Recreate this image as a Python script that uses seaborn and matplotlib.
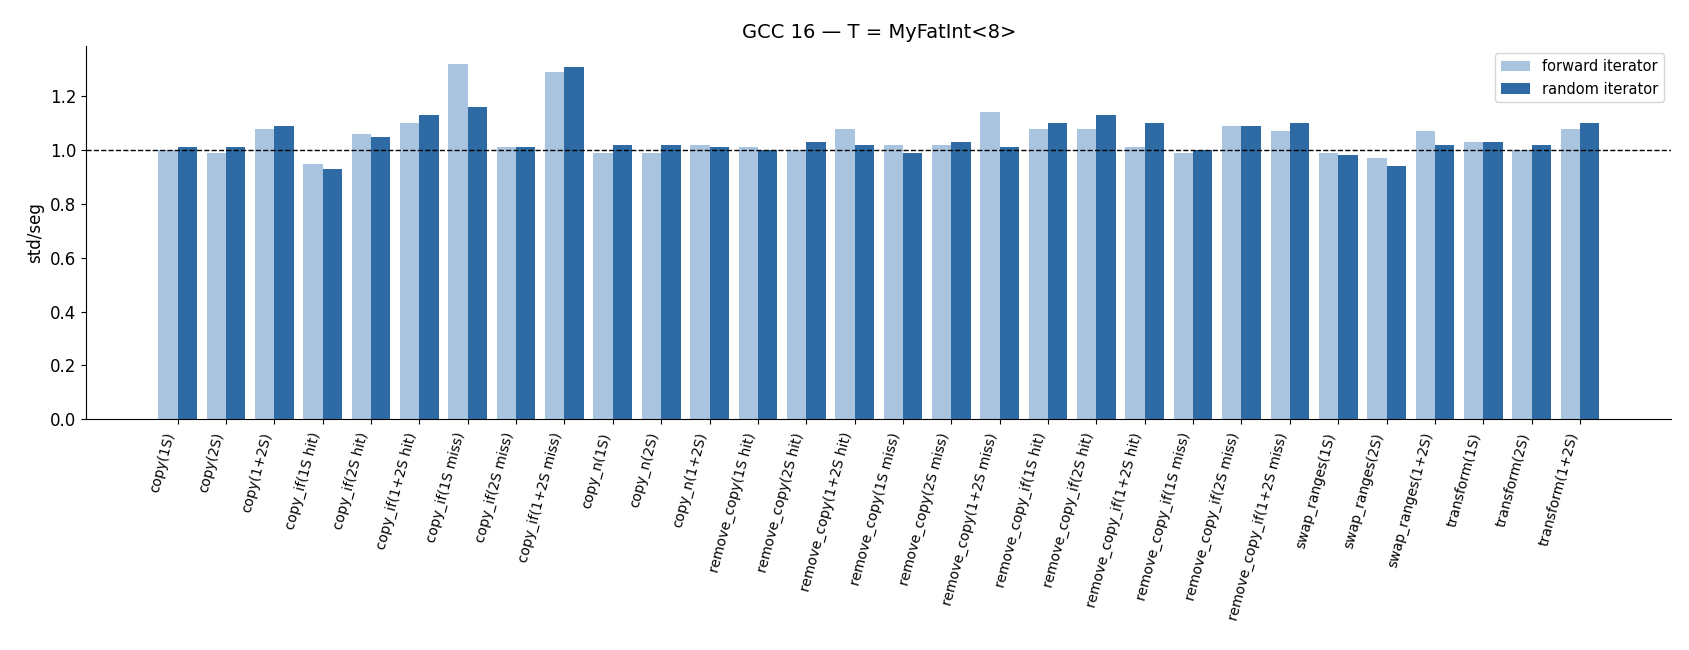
import numpy as np
import pandas as pd
import matplotlib
matplotlib.use("Agg")
import matplotlib.pyplot as plt
import seaborn as sns

categories = [
    "copy(1S)", "copy(2S)", "copy(1+2S)",
    "copy_if(1S hit)", "copy_if(2S hit)", "copy_if(1+2S hit)",
    "copy_if(1S miss)", "copy_if(2S miss)", "copy_if(1+2S miss)",
    "copy_n(1S)", "copy_n(2S)", "copy_n(1+2S)",
    "remove_copy(1S hit)", "remove_copy(2S hit)", "remove_copy(1+2S hit)",
    "remove_copy(1S miss)", "remove_copy(2S miss)", "remove_copy(1+2S miss)",
    "remove_copy_if(1S hit)", "remove_copy_if(2S hit)", "remove_copy_if(1+2S hit)",
    "remove_copy_if(1S miss)", "remove_copy_if(2S miss)", "remove_copy_if(1+2S miss)",
    "swap_ranges(1S)", "swap_ranges(2S)", "swap_ranges(1+2S)",
    "transform(1S)", "transform(2S)", "transform(1+2S)",
]
forward = [1.00, 0.99, 1.08, 0.95, 1.06, 1.10, 1.32, 1.01, 1.29,
           0.99, 0.99, 1.02, 1.01, 1.00, 1.08, 1.02, 1.02, 1.14,
           1.08, 1.08, 1.01, 0.99, 1.09, 1.07, 0.99, 0.97, 1.07,
           1.03, 1.00, 1.08]
random_ = [1.01, 1.01, 1.09, 0.93, 1.05, 1.13, 1.16, 1.01, 1.31,
           1.02, 1.02, 1.01, 1.00, 1.03, 1.02, 0.99, 1.03, 1.01,
           1.10, 1.13, 1.10, 1.00, 1.09, 1.10, 0.98, 0.94, 1.02,
           1.03, 1.02, 1.10]
series = ["forward iterator", "random iterator"]

df = pd.DataFrame({
    "bench": categories * 2,
    "ratio": forward + random_,
    "iter": [series[0]] * len(categories) + [series[1]] * len(categories),
})

sns.set_style("ticks")
plt.rcParams["font.family"] = ["DejaVu Sans"]
for key in ["text.color", "axes.labelcolor", "xtick.color", "ytick.color", "axes.edgecolor"]:
    plt.rcParams[key] = "black"

fig = plt.figure(figsize=(16.9, 6.5), dpi=100)
ax = fig.add_axes([0.051, 0.355, 0.938, 0.574])
sns.barplot(data=df, x="bench", y="ratio", hue="iter", order=categories,
            hue_order=series, palette=["#a9c4df", "#2e6ba4"], width=0.8,
            saturation=1, linewidth=0, ax=ax)
ax.axhline(1.0, color="black", linestyle="--", linewidth=1)

n = len(categories)
ax.set_xlim(-0.4 - 0.05 * (n - 0.2), n - 0.6 + 0.05 * (n - 0.2))
ax.set_ylim(0, 1.386)
ax.set_xlabel("")
ax.set_ylabel("std/seg", fontsize=12)
ax.set_title("GCC 16 \u2014 T = MyFatInt<8>", fontsize=14)
ax.tick_params(axis="y", labelsize=12)
ax.tick_params(axis="x", pad=5)
plt.setp(ax.get_xticklabels(), rotation=75, ha="right", fontsize=10)
ax.legend(loc="upper right", fontsize=10.5)
sns.despine(ax=ax)

fig.savefig("out.png", dpi=100)
